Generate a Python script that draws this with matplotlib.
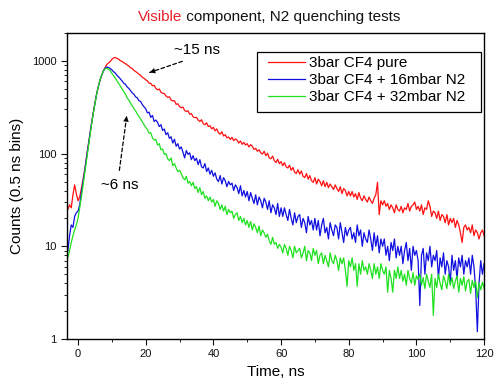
import numpy as np
import matplotlib
matplotlib.use("Agg")
import matplotlib.pyplot as plt
from matplotlib.ticker import LogLocator, NullFormatter, MultipleLocator
from matplotlib.patches import Rectangle

plt.rcParams['font.family'] = ['Liberation Sans', 'DejaVu Sans']

# time axis: 0.5 ns bins from -3.5 ns to 120 ns
time_start = -3.5
time_step = 0.5

red_pure = [
    24, 25, 28, 26, 36, 46, 37, 31,
    34, 42, 53, 68, 92, 122, 160, 212, 275, 352,
    440, 530, 615, 700, 780, 845, 915, 950, 985, 1040,
    1075, 1090, 1065, 1045, 1005, 990, 955, 935, 905, 880,
    845, 830, 790, 770, 745, 720, 700, 665, 650, 625,
    610, 575, 572, 540, 545, 505, 488, 498, 460, 448,
    445, 418, 405, 410, 378, 370, 372, 340, 345, 322,
    312, 318, 292, 285, 290, 266, 270, 250, 244, 246,
    230, 222, 232, 210, 205, 215, 196, 200, 185, 192,
    176, 185, 168, 162, 172, 155, 160, 148, 151, 142,
    150, 138, 144, 140, 130, 137, 126, 132, 124, 128,
    118, 125, 120, 111, 114, 106, 110, 102, 99, 106,
    95, 101, 90, 88, 94, 84, 80, 87, 78, 82,
    74, 80, 72, 70, 75, 66, 71, 63, 61, 67,
    60, 65, 57, 55, 61, 53, 58, 51, 49, 55,
    47, 53, 50, 45, 51, 44, 49, 43, 47, 44,
    41, 46, 42, 39, 44, 37, 42, 40, 35, 39,
    35, 39, 34, 37, 32, 38, 33, 31, 35, 32,
    30, 34, 31, 29, 33, 36, 49, 22, 31, 28,
    31, 27, 29, 25, 28, 26, 23, 28, 25, 24,
    27, 23, 26, 25, 29, 24, 27, 28, 30, 25,
    27, 24, 28, 22, 26, 25, 31, 27, 21, 24,
    23, 20, 24, 19, 22, 21, 18, 22, 17, 20,
    18, 20, 16, 19, 17, 14, 11, 16, 17, 15,
    16, 14, 17, 13, 15, 14, 12, 14, 15, 13,
]

blue_16mbar = [
    8, 9, 13, 17, 16, 21, 23, 24,
    28, 38, 50, 66, 90, 120, 160, 212, 275, 350,
    440, 530, 620, 705, 780, 835, 860, 850, 830, 800,
    765, 740, 700, 672, 640, 610, 575, 560, 525, 505,
    480, 452, 438, 410, 400, 372, 365, 338, 320, 305,
    275, 280, 246, 258, 222, 230, 218, 196, 205, 178,
    184, 160, 168, 146, 152, 130, 143, 120, 128, 112,
    118, 104, 90, 108, 98, 102, 86, 95, 84, 89,
    76, 86, 72, 70, 78, 64, 70, 60, 66, 57,
    62, 53, 50, 58, 47, 55, 51, 44, 50, 46,
    48, 40, 46, 43, 37, 45, 35, 40, 34, 39,
    31, 38, 33, 29, 36, 28, 34, 31, 26, 33,
    30, 25, 31, 23, 28, 26, 22, 29, 21, 26,
    21, 26, 22, 19, 25, 20, 17, 23, 18, 21,
    22, 16, 20, 18, 14, 21, 17, 19, 15, 20,
    15, 19, 13, 17, 20, 14, 16, 12, 18, 15,
    13, 17, 16, 12, 18, 14, 11, 16, 13, 15,
    16, 12, 14, 11, 17, 13, 15, 10, 14, 12,
    11, 15, 12, 9, 14, 10, 13, 8.5, 12, 10,
    12, 8, 10, 7, 11, 9, 12, 7.5, 10, 8,
    10, 6.5, 9, 11, 7, 9.5, 5.5, 10, 8, 9,
    7, 2.3, 8, 9.5, 5, 8.5, 7, 10, 6, 8,
    7, 9, 4.5, 7.5, 6, 8.5, 5, 7, 6, 4,
    8, 5.5, 7, 4.5, 7.5, 6, 8, 5, 7, 6,
    7.5, 5, 8, 6, 3.5, 1.2, 4, 7, 5, 6.5,
]

green_32mbar = [
    6.5, 7.5, 9, 11, 13, 15, 17, 20,
    26, 34, 46, 62, 85, 115, 155, 205, 270, 345,
    435, 530, 620, 705, 775, 820, 835, 815, 785, 735,
    695, 655, 610, 572, 535, 500, 466, 438, 400, 378,
    352, 328, 306, 290, 268, 252, 236, 220, 206, 192,
    182, 166, 168, 148, 140, 142, 124, 128, 110, 112,
    98, 100, 88, 84, 90, 74, 78, 70, 64, 66,
    61, 55, 52, 57, 48, 50, 45, 49, 42, 44,
    38, 43, 36, 39, 33, 35, 31, 34, 30, 32,
    27, 31, 29, 25, 28, 24, 27, 22, 25, 23,
    24, 20, 22, 23, 19, 21, 18, 20, 17, 19,
    16, 18.5, 15, 17.5, 16, 14, 16.5, 13, 15, 14,
    12.5, 13.5, 11.5, 10.5, 12.5, 10.5, 11, 9.5, 10.5, 9.8,
    8.5, 10.5, 9.5, 8, 10, 9, 7.5, 10, 8.5, 9,
    9.5, 7.5, 8.5, 10, 7, 9, 8.5, 7, 9.5, 8,
    9, 6.5, 8, 8.5, 6.5, 8, 7, 6, 8.5, 7,
    6.5, 8, 7, 5.5, 7.5, 6.5, 7.5, 5.5, 3.7, 7,
    6, 7.5, 5.5, 6.5, 3.7, 6.5, 5, 7, 5.5, 6,
    5, 6.5, 5.5, 4.5, 6.5, 5, 6, 4.5, 6.5, 5.5,
    5, 6, 3.2, 5.5, 4.5, 3.2, 5.5, 4.5, 6, 4.5,
    5.5, 4.2, 5, 3.8, 5.5, 4.5, 4, 5.2, 3.8, 4.8,
    4.4, 5, 3.8, 4.6, 3.5, 5, 4.2, 3.6, 5, 1.8,
    4.5, 3.6, 5, 4, 3.4, 4.8, 4.2, 3.5, 5, 3.8,
    4.6, 3.5, 4.2, 4.8, 3.2, 4.5, 3.8, 4.7, 3.3, 4.2,
    4.4, 3.1, 4.3, 3.6, 4.2, 2.8, 4, 3.4, 4.1, 3.5,
]

labels = ["3bar CF4 pure", "3bar CF4 + 16mbar N2", "3bar CF4 + 32mbar N2"]
colors = ["#ff1010", "#1010e0", "#20e020"]

fig = plt.figure(figsize=(4.95, 3.87), dpi=100)
ax = fig.add_axes([0.1354, 0.124, 0.8426, 0.7907])

for series, lab, col in zip([red_pure, blue_16mbar, green_32mbar], labels, colors):
    t = time_start + time_step * np.arange(len(series))
    ax.plot(t, series, color=col, lw=0.9, label=lab)

ax.set_yscale('log')
ax.set_xlim(-3.25, 120)
ax.set_ylim(1, 2000)
ax.set_yticks([1, 10, 100, 1000])
ax.set_yticklabels(['1', '10', '100', '1000'])
ax.yaxis.set_minor_locator(LogLocator(base=10, subs=np.arange(2, 10)))
ax.yaxis.set_minor_formatter(NullFormatter())
ax.xaxis.set_major_locator(MultipleLocator(20))
ax.xaxis.set_minor_locator(MultipleLocator(10))
ax.tick_params(which='major', direction='out', length=4, width=0.8, labelsize=8, colors='#111111')
ax.tick_params(which='minor', direction='out', length=2.5, width=0.6)
for s in ax.spines.values():
    s.set_linewidth(1.0)

ax.set_xlabel("Time, ns", fontsize=11, labelpad=4)
ax.set_ylabel("Counts (0.5 ns bins)", fontsize=11, labelpad=6)

# legend box drawn separately, entries placed inside
ax.add_patch(Rectangle((0.456, 0.742), 0.537, 0.196, transform=ax.transAxes,
                       facecolor='white', edgecolor='black', lw=0.9, zorder=4))
leg = ax.legend(loc='upper left', bbox_to_anchor=(0.482, 0.925), borderaxespad=0,
                fontsize=11, frameon=False, handlelength=2.4, handletextpad=0.25,
                labelspacing=0.2, borderpad=0)
leg.set_zorder(5)

# annotations
ax.annotate("", xy=(20.4, 734), xytext=(31.6, 1012),
            arrowprops=dict(arrowstyle='-', linestyle=(0, (3, 2)), color='black', lw=0.9))
ax.annotate("", xy=(20.4, 734), xytext=(31.6, 1012),
            arrowprops=dict(arrowstyle='-|>', lw=0, color='black', mutation_scale=10))
ax.text(35.2, 1297, "~15 ns", fontsize=11, ha='center', va='center')

ax.annotate("", xy=(14.5, 272), xytext=(12.1, 61.6),
            arrowprops=dict(arrowstyle='-', linestyle=(0, (3, 2)), color='black', lw=0.9))
ax.annotate("", xy=(14.5, 272), xytext=(12.1, 61.6),
            arrowprops=dict(arrowstyle='-|>', lw=0, color='black', mutation_scale=10))
ax.text(12.4, 45.8, "~6 ns", fontsize=11, ha='center', va='center')

# two-coloured title
t1 = fig.text(0.279, 0.956, "Visible", color='#e8202a', fontsize=11, ha='left', va='center')
fig.canvas.draw()
ax.annotate(" component, N2 quenching tests", xy=(1, 0), xycoords=t1,
            va='bottom', ha='left', fontsize=11, color='#111111')

fig.savefig("out.png", dpi=100)
